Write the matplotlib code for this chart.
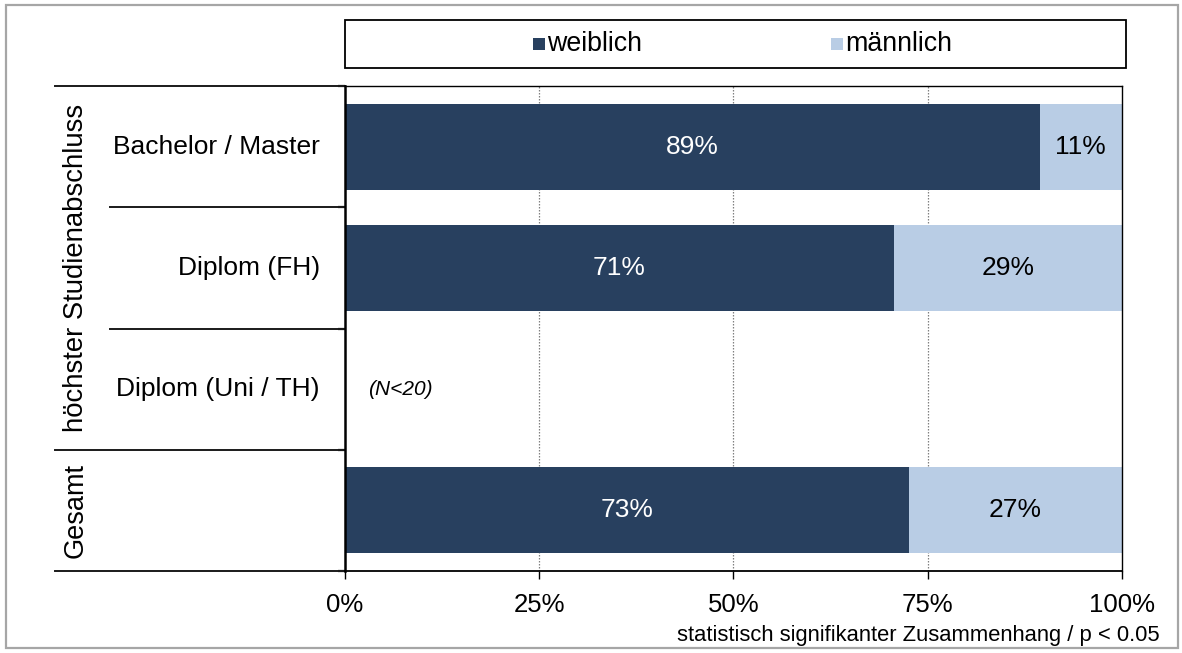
import matplotlib
matplotlib.use("Agg")
import matplotlib.pyplot as plt
from matplotlib.patches import Rectangle
from matplotlib.lines import Line2D
import matplotlib.transforms as mtransforms
import numpy as np

plt.rcParams['font.family'] = ['Liberation Sans', 'DejaVu Sans']

# ---- data ----
categories = ["Bachelor / Master", "Diplom (FH)", "Diplom (Uni / TH)", ""]
weiblich = [89.4, 70.6, np.nan, 72.6]
maennlich = [10.6, 29.4, np.nan, 27.4]
series_names = ["weiblich", "männlich"]
group_labels = ["höchster Studienabschluss", "Gesamt"]
xticks = [0, 25, 50, 75, 100]
xticklabels = ["0%", "25%", "50%", "75%", "100%"]
note_small_n = "(N<20)"
footnote = "statistisch signifikanter Zusammenhang / p < 0.05"

c_dark = "#28405F"
c_light = "#B9CDE5"

W, H = 1182, 653
fig = plt.figure(figsize=(W / 100, H / 100), dpi=100)

def fx(px):
    return px / W

def fy(py):
    return 1 - py / H

# outer border
fig.patches.append(Rectangle((fx(6), fy(648)), fx(1178) - fx(6), fy(5) - fy(648),
                             transform=fig.transFigure, fill=False,
                             edgecolor="#A6A6A6", lw=1.6))

ax_l, ax_r, ax_t, ax_b = 345, 1122, 86, 571
ax = fig.add_axes([fx(ax_l), fy(ax_b), fx(ax_r) - fx(ax_l), fy(ax_t) - fy(ax_b)])

n = len(categories)
ypos = np.arange(n) + 0.5
bh = 0.71
w = np.array(weiblich, dtype=float)
m = np.array(maennlich, dtype=float)
ax.barh(ypos, w, height=bh, color=c_dark, edgecolor="none", zorder=2)
ax.barh(ypos, m, left=w, height=bh, color=c_light, edgecolor="none", zorder=2)

for i in range(n):
    if not np.isnan(w[i]):
        ax.text(w[i] / 2, ypos[i], f"{w[i]:.0f}%", ha="center", va="center",
                color="white", fontsize=19, zorder=3)
        ax.text(w[i] + m[i] / 2, ypos[i], f"{m[i]:.0f}%", ha="center", va="center",
                color="black", fontsize=19, zorder=3)
    else:
        ax.text(3, ypos[i], note_small_n, ha="left", va="center",
                fontsize=15, style="italic", zorder=3)

ax.set_xlim(0, 100)
ax.set_ylim(n, 0)
ax.set_xticks(xticks)
ax.set_xticklabels(xticklabels, fontsize=18.5)
ax.set_yticks(np.arange(n + 1))
ax.set_yticklabels([])
ax.tick_params(axis="x", direction="out", length=6, width=1, pad=10)
ax.tick_params(axis="y", direction="out", length=5, width=1.6)
for x in xticks[1:-1]:
    ax.axvline(x, color="#808080", lw=0.9, ls=(0, (1.2, 1.2)), zorder=1)
for s in ["top", "right"]:
    ax.spines[s].set_linewidth(1.0)
ax.spines["bottom"].set_linewidth(1.3)
ax.spines["left"].set_linewidth(1.8)

# left-hand category structure
trans = mtransforms.blended_transform_factory(ax.transAxes, ax.transData)
x_outer = (55 - ax_l) / (ax_r - ax_l)
x_inner = (110 - ax_l) / (ax_r - ax_l)
for yb in range(n + 1):
    x0 = x_outer if yb in (0, 3, 4) else x_inner
    ax.add_line(Line2D([x0, 0], [yb, yb], transform=trans, color="#1a1a1a",
                       lw=1.4, clip_on=False))

x_lab = (320 - ax_l) / (ax_r - ax_l)
for i, c in enumerate(categories):
    ax.text(x_lab, ypos[i], c, transform=trans, ha="right", va="center", fontsize=19)

x_grp = (76 - ax_l) / (ax_r - ax_l)
ax.text(x_grp, 1.5, group_labels[0], transform=trans, rotation=90,
        ha="center", va="center", fontsize=19.8)
ax.text(x_grp, 3.5, group_labels[1], transform=trans, rotation=90,
        ha="center", va="center", fontsize=19.5)

# legend box (manual)
fig.patches.append(Rectangle((fx(345), fy(68)), fx(1126) - fx(345), fy(20) - fy(68),
                             transform=fig.transFigure, fill=False,
                             edgecolor="black", lw=1.3))
leg_y = 44
for name, col, xs in [(series_names[0], c_dark, 533), (series_names[1], c_light, 831)]:
    fig.patches.append(Rectangle((fx(xs), fy(leg_y + 6)), fx(12), fy(0) - fy(12),
                                 transform=fig.transFigure, facecolor=col,
                                 edgecolor="none"))
    fig.text(fx(xs + 14), fy(leg_y), name, ha="left", va="center", fontsize=19.3)

fig.text(fx(1160), fy(636), footnote, ha="right", va="center", fontsize=15.8)

fig.savefig("out.png", dpi=100)
